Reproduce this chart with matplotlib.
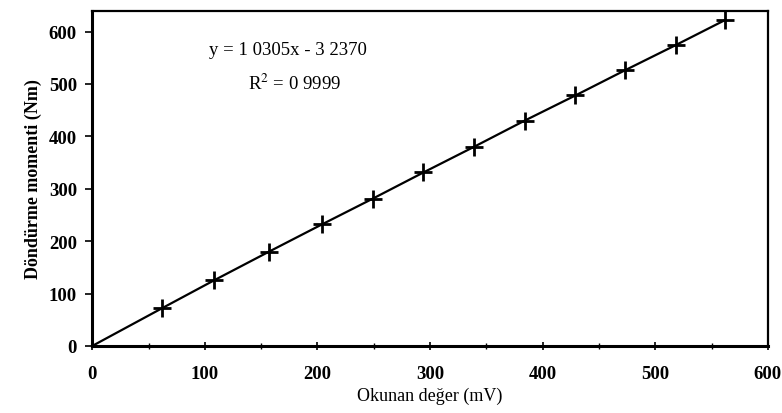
import numpy as np
import matplotlib
matplotlib.use("Agg")
import matplotlib.pyplot as plt

# calibration points (origin included as the line start)
okunan_mv = [0, 62, 108, 157, 204, 249, 294, 339, 384, 429, 473, 518, 562]
moment_nm = [0, 72, 125, 180, 232, 281, 331, 380, 430, 478, 526, 574, 622]

x_ticks = [0, 100, 200, 300, 400, 500, 600]
y_ticks = [0, 100, 200, 300, 400, 500, 600]

eq_text = "y = 1 0305x - 3 2370"
r2_text = "R$^2$ = 0 9999"

plt.rcParams['font.family'] = ['Liberation Serif', 'DejaVu Serif']
plt.rcParams['mathtext.fontset'] = 'stix'

fig = plt.figure(figsize=(7.82, 4.14), dpi=100)
ax = fig.add_axes([0.118, 0.162, 0.864, 0.81])

ax.plot(okunan_mv, moment_nm, color='black', lw=1.6, clip_on=False, zorder=3)
ax.plot(okunan_mv[1:], moment_nm[1:], ls='none', marker='+', ms=13, mew=2,
        color='black', clip_on=False, zorder=4)

ax.set_xlim(0, 600)
ax.set_ylim(0, 640)
ax.set_xticks(x_ticks)
ax.set_yticks(y_ticks)
ax.set_xticks(np.arange(50, 600, 100), minor=True)
ax.tick_params(axis='x', which='major', direction='inout', length=6, width=1.2, pad=11, labelsize=13.5)
ax.tick_params(axis='x', which='minor', direction='inout', length=4, width=1)
ax.tick_params(axis='y', which='major', direction='out', length=5, width=1.2, pad=6, labelsize=13.5)
for lab in ax.get_xticklabels() + ax.get_yticklabels():
    lab.set_fontweight('bold')

for side in ['left', 'bottom']:
    ax.spines[side].set_linewidth(2.2)
for side in ['top', 'right']:
    ax.spines[side].set_linewidth(1.6)

ax.set_xlabel("Okunan değer (mV)", fontsize=13, labelpad=3)
ax.set_ylabel("Döndürme momenti (Nm)", fontsize=13, fontweight='bold', labelpad=5)

ax.text(0.29, 0.885, eq_text, transform=ax.transAxes, ha='center', va='center', fontsize=13.5)
ax.text(0.30, 0.785, r2_text, transform=ax.transAxes, ha='center', va='center', fontsize=13.5)

fig.savefig("out.png", dpi=100)
